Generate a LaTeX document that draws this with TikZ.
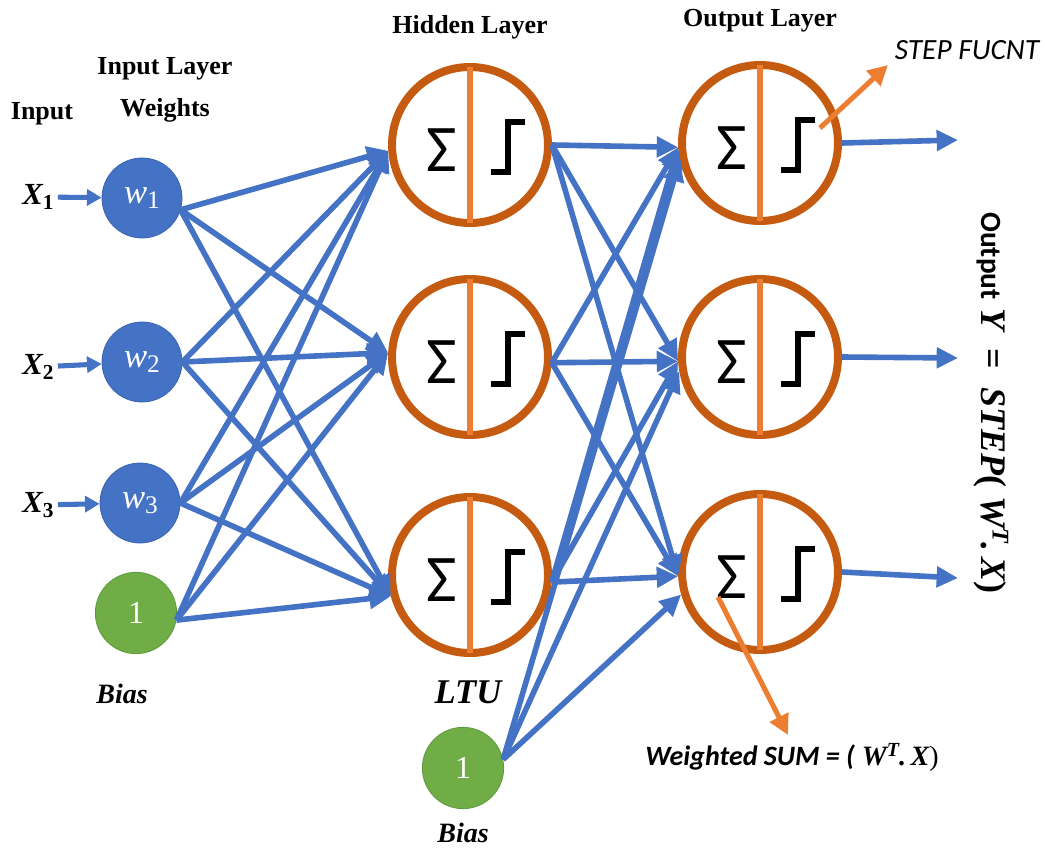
\documentclass[tikz,border=0pt]{standalone}
\usepackage{fontspec}
\setmainfont{Liberation Serif}
\newfontfamily\carlito{Carlito}
\usetikzlibrary{arrows.meta,calc}

\definecolor{nnblue}{HTML}{4472C4}
\definecolor{nnblueedge}{HTML}{3A64B0}
\definecolor{ringorange}{HTML}{C55A11}
\definecolor{splitorange}{HTML}{ED7D31}
\definecolor{biasgreen}{HTML}{70AD47}
\definecolor{biasedge}{HTML}{5E9A3A}

% bold italic "math" letters
\newcommand{\mbi}[1]{{\bfseries\itshape #1}}
\newcommand{\xin}[1]{\mbi{X}\raisebox{-0.35ex}{\fontsize{16}{16}\selectfont\bfseries #1}}
\newcommand{\wgt}[1]{{\itshape w}\raisebox{-0.3ex}{\fontsize{19}{19}\selectfont #1}}

\begin{document}
\begin{tikzpicture}[x=0.75pt,y=-0.75pt,
  weightnode/.style={circle, fill=nnblue, draw=nnblueedge, line width=0.6pt,
    minimum size=60pt, inner sep=0pt, text=white, font=\fontsize{26}{26}\selectfont},
  biasnode/.style={circle, fill=biasgreen, draw=biasedge, line width=0.6pt,
    minimum size=61pt, inner sep=0pt, text=white, font=\fontsize{24}{24}\selectfont},
  ltu/.style={circle, draw=ringorange, fill=white, line width=6pt, minimum size=117pt, inner sep=0pt},
  divider/.style={draw=splitorange, line width=4pt},
  sigma/.style={inner sep=0pt, font=\fontsize{50}{50}\selectfont\carlito},
  stepline/.style={draw=black, line width=5pt, line join=miter, line cap=butt},
  conn/.style={draw=nnblue, line width=4.2pt, -{Triangle[length=16pt,width=15pt]}},
  inconn/.style={draw=nnblue, line width=3.8pt, -{Triangle[length=11pt,width=12pt]}},
  annot/.style={draw=splitorange, line width=3.8pt, -{Triangle[length=15pt,width=15pt]}},
  head/.style={anchor=base, inner sep=0pt, font=\fontsize{19.5}{20}\selectfont\bfseries},
  xlab/.style={inner sep=3pt, font=\fontsize{23}{23}\selectfont},
  biaslab/.style={anchor=base, inner sep=0pt, font=\fontsize{21}{21}\selectfont\bfseries\itshape},
]
\useasboundingbox (0,0) rectangle (1045,848);

% headings
\node[head] (inp) at (42,120) {Input};
\node[head] (inl) at (165,75) {Input Layer};
\node[head] (wts) at (165,117) {Weights};
\node[head] (hid) at (470,34) {Hidden Layer};
\node[head] (outl) at (760,27) {Output Layer};

% input layer
\node[weightnode] (w1) at (142,198) {\wgt{1}};
\node[weightnode] (w2) at (142,362) {\wgt{2}};
\node[weightnode] (w3) at (140,503) {\wgt{3}};
\node[biasnode] (b1) at (136,613) {1};
\node[biaslab] (b1l) at (122,703) {Bias};

% inputs
\node[xlab] (x1) at (38,197) {\xin{1}};
\node[xlab] (x2) at (38,367) {\xin{2}};
\node[xlab] (x3) at (38,505) {\xin{3}};
\draw[inconn] (x1) -- (w1);
\draw[inconn] (x2) -- (w2);
\draw[inconn] (x3) -- (w3);

% threshold units
\node[ltu] (h1) at (470,145) {};
\node[ltu] (h2) at (470,357) {};
\node[ltu] (h3) at (470,575) {};
\node[ltu] (o1) at (760,143) {};
\node[ltu] (o2) at (760,357) {};
\node[ltu] (o3) at (760,572) {};
\foreach \n in {h1,h2,h3,o1,o2,o3}{
  \draw[divider] ([yshift=-3pt]\n.north) -- ([yshift=3pt]\n.south);
  \node[sigma] (\n-sig) at ($(\n)+(-28,5)$) {Σ};
  \draw[stepline] ($(\n)+(21,27)$) -- ++(17,0) -- ++(0,-50) -- ++(17,0);
}

\node[biaslab, font=\fontsize{26}{26}\selectfont\bfseries\itshape] (ltul) at (468,703) {LTU};
\node[biasnode] (b2) at (463,768) {1};
\node[biaslab] (b2l) at (463,842) {Bias};

% input layer -> hidden layer
\foreach \s/\a in {w1/-17, w2/0, w3/0, b1/-10}{
  \draw[conn] (\s.\a) -- (h1.184);
  \draw[conn] (\s.\a) -- (h2.177);
  \draw[conn] (\s.\a) -- (h3.195);
}

% hidden layer -> output layer
\foreach \s/\a in {h1/0, h2/-4, h3/-5}{
  \draw[conn] (\s.\a) -- (o1.183);
  \draw[conn] (\s.\a) -- (o2.183);
  \draw[conn] (\s.\a) -- (o3.183);
}
\draw[conn] (b2.12) -- (o1.192);
\draw[conn] (b2.12) -- (o2.190);
\draw[conn] (b2.12) -- (o3.196);

% outputs
\coordinate (y1) at (958,140);
\coordinate (y2) at (958,358);
\coordinate (y3) at (958,578);
\draw[conn] (o1.east) -- (y1);
\draw[conn] (o2.east) -- (y2);
\draw[conn] (o3.east) -- (y3);

% annotations
\coordinate (stepfrom) at (820,128);
\coordinate (stepto) at (888,65);
\draw[annot] (stepfrom) -- (stepto);
\node[anchor=base, inner sep=0pt, font=\fontsize{22}{22}\selectfont\carlito\itshape] (stepl) at (967,60) {STEP FUCNT};

\coordinate (sumfrom) at (718,597);
\coordinate (sumto) at (788,735);
\draw[annot] (sumfrom) -- (sumto);
\node[anchor=base, inner sep=0pt, font=\fontsize{21}{21}\selectfont] (suml) at (792,765)
  {{\carlito\bfseries\itshape Weighted SUM = (} \mbi{W}\raisebox{0.7ex}{\fontsize{15}{15}\selectfont\mbi{T}}\mbi{.\,X})};

\node[rotate=-90, anchor=base west, inner sep=0pt, font=\fontsize{27}{27}\selectfont] (yl) at (981,212)
  {{\carlito\bfseries\fontsize{22}{22}\selectfont Output} \mbi{Y}\ \ {\bfseries=}\ \ \mbi{STEP}{\bfseries(}\ \mbi{W}\raisebox{0.7ex}{\fontsize{18}{18}\selectfont\mbi{T}}\mbi{.\,X}{\bfseries)}};
\end{tikzpicture}
\end{document}
